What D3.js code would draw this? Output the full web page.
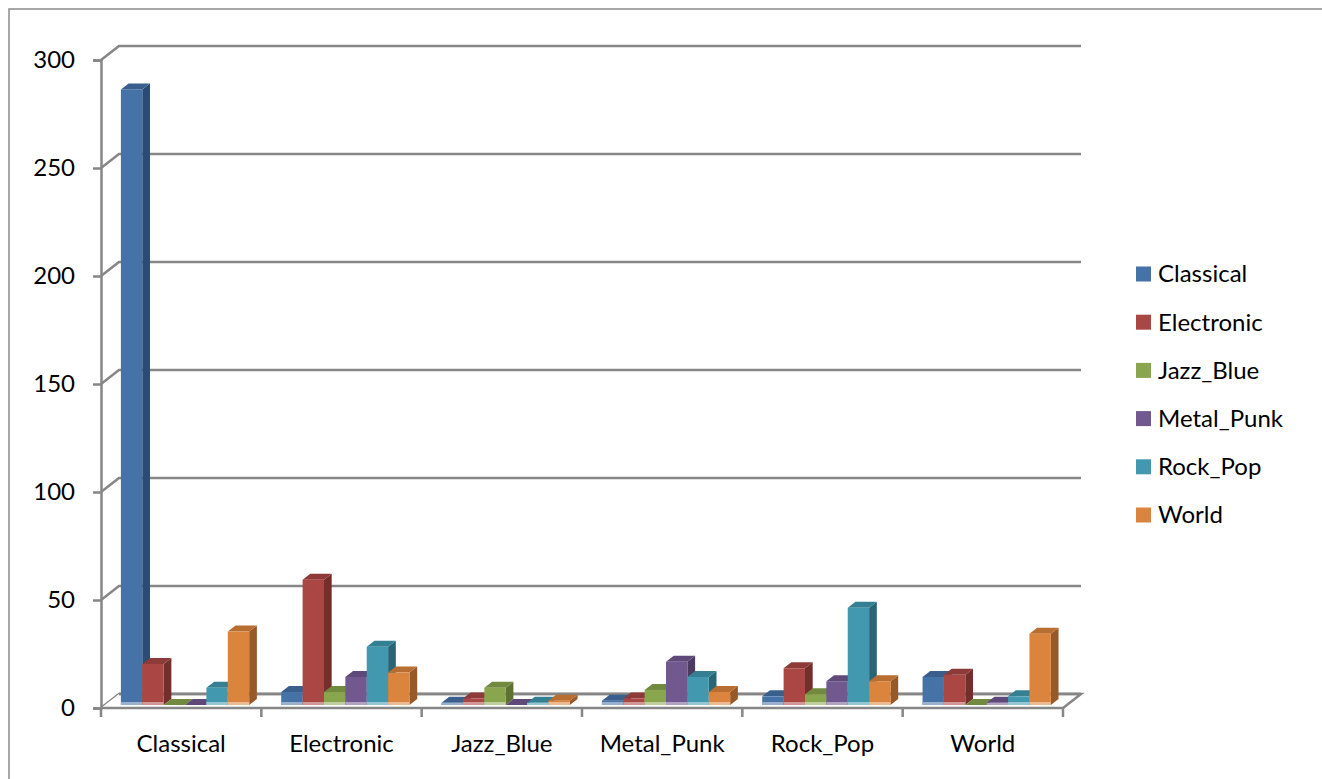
<!DOCTYPE html>
<html>
<head>
<meta charset="utf-8">
<script src="https://cdn.jsdelivr.net/npm/d3@7"></script>
<style>
  html, body { margin: 0; padding: 0; background: #fff; }
  svg { display: block; }
  text { font-family: Lato, "Noto Sans", sans-serif; fill: #000; }
</style>
</head>
<body>
<svg id="chart" width="1322" height="779"></svg>
<script>
// Genre-by-genre counts: each category on the x axis, one column per series
const categories = ["Classical", "Electronic", "Jazz_Blue", "Metal_Punk", "Rock_Pop", "World"];
const series = ["Classical", "Electronic", "Jazz_Blue", "Metal_Punk", "Rock_Pop", "World"];
const valClassical = [285, 6, 1, 2, 4, 13];
const valElectronic = [19, 58, 3, 3, 17, 14];
const valJazzBlue = [0, 6, 8, 7, 5, 0];
const valMetalPunk = [0, 13, 0, 20, 11, 1];
const valRockPop = [8, 27, 1, 13, 45, 4];
const valWorld = [34, 15, 2, 6, 11, 33];
const yTicks = [0, 50, 100, 150, 200, 250, 300];

const seriesValues = [valClassical, valElectronic, valJazzBlue, valMetalPunk, valRockPop, valWorld];

// front, right side and top shades for each series
const palette = {
  Classical:  { front: "#4572a7", side: "#2d4b70", top: "#3a5f8c" },
  Electronic: { front: "#aa4643", side: "#742e2c", top: "#8d3a38" },
  Jazz_Blue:  { front: "#89a54e", side: "#5d7133", top: "#718a40" },
  Metal_Punk: { front: "#71588f", side: "#4c3b61", top: "#5e4978" },
  Rock_Pop:   { front: "#4198af", side: "#2a6575", top: "#357f93" },
  World:      { front: "#db843d", side: "#975927", top: "#b86d31" }
};

const svg = d3.select("#chart");
const grid = "#868686";
const fontSize = 24;

// outer chart border
svg.append("rect")
  .attr("x", 9).attr("y", 9).attr("width", 1340).attr("height", 800)
  .attr("fill", "none").attr("stroke", "#8a8a8a").attr("stroke-width", 1.5);

// 3D projection: depth runs up and to the right
const depthX = 18, depthY = -14;
const yFront = d3.scaleLinear().domain([0, 300]).range([708, 60]);
const x0 = d3.scaleBand().domain(categories).range([101, 1063]);
const x1 = d3.scaleBand().domain(series).range([0, x0.bandwidth()]).paddingInner(0).paddingOuter(0.75);
const xLeft = x0.range()[0], xRight = x0.range()[1];

// back wall gridlines, with the diagonal on the side wall
const wall = svg.append("g");
yTicks.forEach(v => {
  const yf = yFront(v), yb = yf + depthY;
  wall.append("path")
    .attr("d", `M${xLeft},${yf} L${xLeft + depthX},${yb} L${xRight + depthX},${yb}`)
    .attr("fill", "none").attr("stroke", grid).attr("stroke-width", 2.5);
});

// floor outline
const y0 = yFront(0);
svg.append("path")
  .attr("d", `M${xLeft},${y0} L${xRight},${y0} L${xRight + depthX},${y0 + depthY} L${xLeft + depthX},${y0 + depthY}`)
  .attr("fill", "#fff").attr("stroke", grid).attr("stroke-width", 2.5).attr("stroke-linejoin", "miter");
// redraw back edge line on top of the floor fill
svg.append("line")
  .attr("x1", xLeft + depthX).attr("x2", xRight + depthX)
  .attr("y1", y0 + depthY).attr("y2", y0 + depthY)
  .attr("stroke", grid).attr("stroke-width", 2.5);

// columns sit between these depth fractions
const t0 = 3 / 14, t1 = 9 / 14;
const ox = depthX * t0, oy = depthY * t0;
const dx = depthX * (t1 - t0), dy = depthY * (t1 - t0);

const bars = svg.append("g");
categories.forEach((cat, ci) => {
  series.forEach((s, si) => {
    const v = seriesValues[si][ci];
    const c = palette[s];
    const xl = x0(cat) + x1(s) + ox;
    const xr = xl + x1.bandwidth();
    const yb = yFront(0) + oy;
    const yt = yFront(v) + oy;
    const g = bars.append("g");
    // right side
    g.append("path")
      .attr("d", `M${xr},${yt} L${xr + dx},${yt + dy} L${xr + dx},${yb + dy} L${xr},${yb} Z`)
      .attr("fill", c.side);
    // top
    g.append("path")
      .attr("d", `M${xl},${yt} L${xr},${yt} L${xr + dx},${yt + dy} L${xl + dx},${yt + dy} Z`)
      .attr("fill", c.top);
    // front
    g.append("rect")
      .attr("x", xl).attr("y", yt).attr("width", xr - xl).attr("height", yb - yt)
      .attr("fill", c.front);
    // pale reflection along the base of the front face
    const strip = Math.min(3, yb - yt);
    if (strip > 0) {
      g.append("rect")
        .attr("x", xl).attr("y", yb - strip).attr("width", xr - xl).attr("height", strip)
        .attr("fill", d3.interpolateRgb(c.front, "#ffffff")(0.45));
    }
  });
});

// vertical axis at the front left
const yAxis = d3.axisLeft(yFront).tickValues(yTicks).tickSize(8).tickPadding(18);
svg.append("g")
  .attr("transform", `translate(${xLeft},0)`)
  .call(yAxis)
  .call(g => g.select(".domain").attr("stroke", grid).attr("stroke-width", 2.5))
  .call(g => g.selectAll(".tick line").attr("stroke", grid).attr("stroke-width", 2.5))
  .call(g => g.selectAll(".tick text")
    .style("font-family", "Lato, 'Noto Sans', sans-serif")
    .attr("font-size", fontSize).attr("fill", "#000"));

// category boundary ticks below the floor
const bounds = categories.map(c => x0(c)).concat([xRight]);
svg.append("g").selectAll("line").data(bounds).join("line")
  .attr("x1", d => d).attr("x2", d => d)
  .attr("y1", y0).attr("y2", y0 + 9)
  .attr("stroke", grid).attr("stroke-width", 2.5);

// category labels
svg.append("g").selectAll("text").data(categories).join("text")
  .attr("x", d => x0(d) + x0.bandwidth() / 2)
  .attr("y", 744)
  .attr("dy", "0.35em")
  .attr("text-anchor", "middle")
  .attr("font-size", fontSize)
  .text(d => d);

// legend
const legend = svg.append("g");
series.forEach((s, i) => {
  const cy = 274 + i * 48.2;
  legend.append("rect")
    .attr("x", 1136).attr("y", cy - 7.5).attr("width", 15).attr("height", 15)
    .attr("fill", palette[s].front);
  legend.append("text")
    .attr("x", 1158).attr("y", cy).attr("dy", "0.35em")
    .attr("font-size", fontSize)
    .text(s);
});
</script>
</body>
</html>
